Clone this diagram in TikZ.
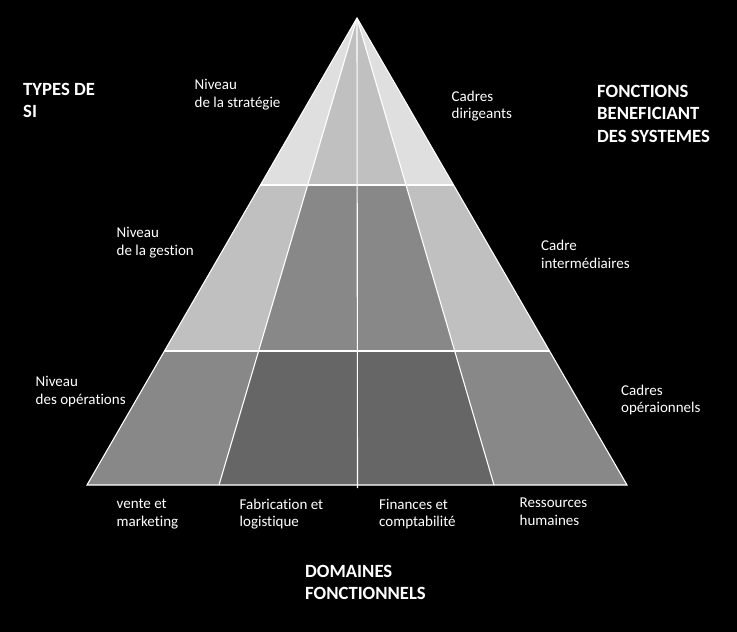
\documentclass[tikz,border=0pt]{standalone}
\usepackage{fontspec}
\setmainfont{Carlito}[Ligatures=NoCommon]
\usetikzlibrary{calc}
\definecolor{tierA}{HTML}{DFDFDF}
\definecolor{tierB}{HTML}{C0C0C0}
\definecolor{tierC}{HTML}{888888}
\definecolor{tierD}{HTML}{666666}
\begin{document}
\begin{tikzpicture}[x=1pt,y=-1pt,
  % labels are placed by the baseline of their last line
  lbl/.style={text=white, anchor=base west, inner sep=0pt, align=left,
    font=\fontsize{15}{17.5}\selectfont},
  head/.style={lbl, font=\bfseries\fontsize{18.67}{22.5}\selectfont},
  divider/.style={draw=white, line width=1.1pt, line join=miter}]
\fill[black] (0,0) rectangle (737,632);
\useasboundingbox (0,0) rectangle (737,632);

% apex and base points
\coordinate (A)  at (357,18);
\coordinate (BL) at (87,485);
\coordinate (B1) at (219,485);
\coordinate (B2) at (494,485);
\coordinate (BR) at (627,485);
\coordinate (BCx) at (357.5,488);

% points where the two horizontal cuts meet the slanted lines
\coordinate (L1) at ($(A)!0.3576!(BL)$);
\coordinate (I1) at ($(A)!0.3576!(B1)$);
\coordinate (J1) at ($(A)!0.3576!(B2)$);
\coordinate (R1) at ($(A)!0.3576!(BR)$);
\coordinate (L2) at ($(A)!0.7131!(BL)$);
\coordinate (I2) at ($(A)!0.7131!(B1)$);
\coordinate (J2) at ($(A)!0.7131!(B2)$);
\coordinate (R2) at ($(A)!0.7131!(BR)$);

% tiers: outer faces, then inner faces
\fill[tierA] (A) -- (L1) -- (R1) -- cycle;
\fill[tierB] (A) -- (I1) -- (J1) -- cycle;
\fill[tierB] (L1) -- (L2) -- (R2) -- (R1) -- cycle;
\fill[tierC] (I1) -- (I2) -- (J2) -- (J1) -- cycle;
\fill[tierC] (L2) -- (BL) -- (BR) -- (R2) -- cycle;
\fill[tierD] (I2) -- (B1) -- (B2) -- (J2) -- cycle;

% white dividing lines
\draw[divider] (A) -- (BL) -- (BR) -- cycle;
\draw[divider] (L1) -- (R1);
\draw[divider] (L2) -- (R2);
\draw[divider] (A) -- (B1);
\draw[divider] (A) -- (B2);
\draw[divider] (A) -- (BCx);

% headings
\node[head] (types) at (23,117.5) {TYPES DE\\SI};
\node[head] (fonctions) at (597,142) {FONCTIONS\\BENEFICIANT\\DES SYSTEMES};
\node[head] (domaines) at (305,599.5) {DOMAINES\\FONCTIONNELS};

% levels
\node[lbl] (strat) at (194.5,107) {Niveau\\de la stratégie};
\node[lbl] (gest) at (116.5,255) {Niveau\\de la gestion};
\node[lbl] (oper) at (35.5,404.3) {Niveau\\des opérations};

% staff
\node[lbl] (dirig) at (451.5,118.7) {Cadres\\dirigeants};
\node[lbl] (inter) at (541,268.3) {Cadre\\intermédiaires};
\node[lbl] (opera) at (621,412.7) {Cadres\\opéraionnels};

% functional areas
\node[lbl] (vente) at (116.5,526) {vente et\\marketing};
\node[lbl] (fabr) at (239.5,526.5) {Fabrication et\\logistique};
\node[lbl] (fin) at (379,526.5) {Finances et\\comptabilité};
\node[lbl] (rh) at (519.5,525) {Ressources\\humaines};
\end{tikzpicture}
\end{document}
